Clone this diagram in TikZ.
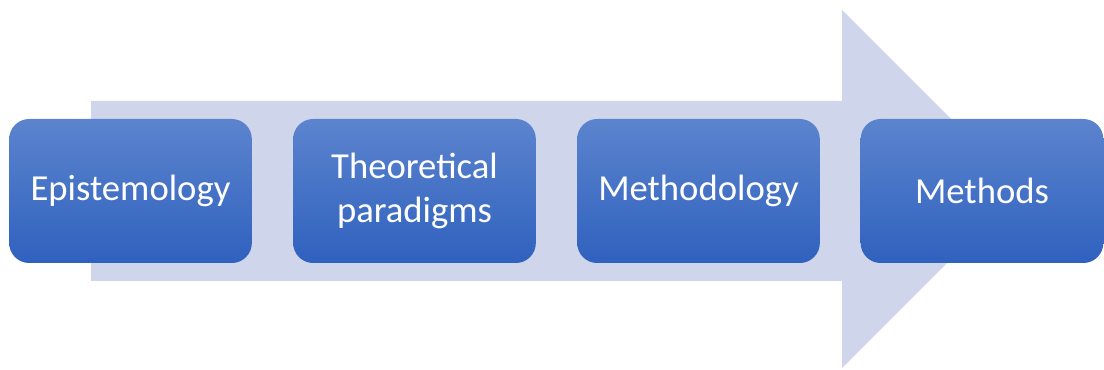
\documentclass[tikz,border=0pt]{standalone}
\usepackage{fontspec}
\setmainfont{Carlito}
\definecolor{arrowfill}{HTML}{CFD5EA}
\definecolor{boxtop}{HTML}{5C84CE}
\definecolor{boxbottom}{HTML}{2F61BE}
\tikzset{
	stage/.style={rounded corners=15pt, top color=boxtop, bottom color=boxbottom,
		minimum width=182pt, minimum height=108pt, inner sep=0pt,
		text=white, align=center, font=\fontsize{27.5}{32.5}\selectfont}
}
\begin{document}
\begin{tikzpicture}[x=0.75pt, y=-0.75pt]
		\useasboundingbox (0,0) rectangle (1104,370);
		
		% big arrow in the background
		\fill [arrowfill]
		(91,101) -- (842,101) -- (842,10)
		-- (1021,189)
		-- (842,368) -- (842,281) -- (91,281) -- cycle;
		
		% the four stages
		\node [stage] (episteme) at (130.5,191) {Epistemology};
		\node [stage] (paradigms) at (414.5,191) {Theoretical\\paradigms};
		\node [stage] (methodology) at (698.5,191) {Methodology};
		\node [stage] (methods) at (982,191) {Methods};
		
		\end{tikzpicture}
\end{document}
